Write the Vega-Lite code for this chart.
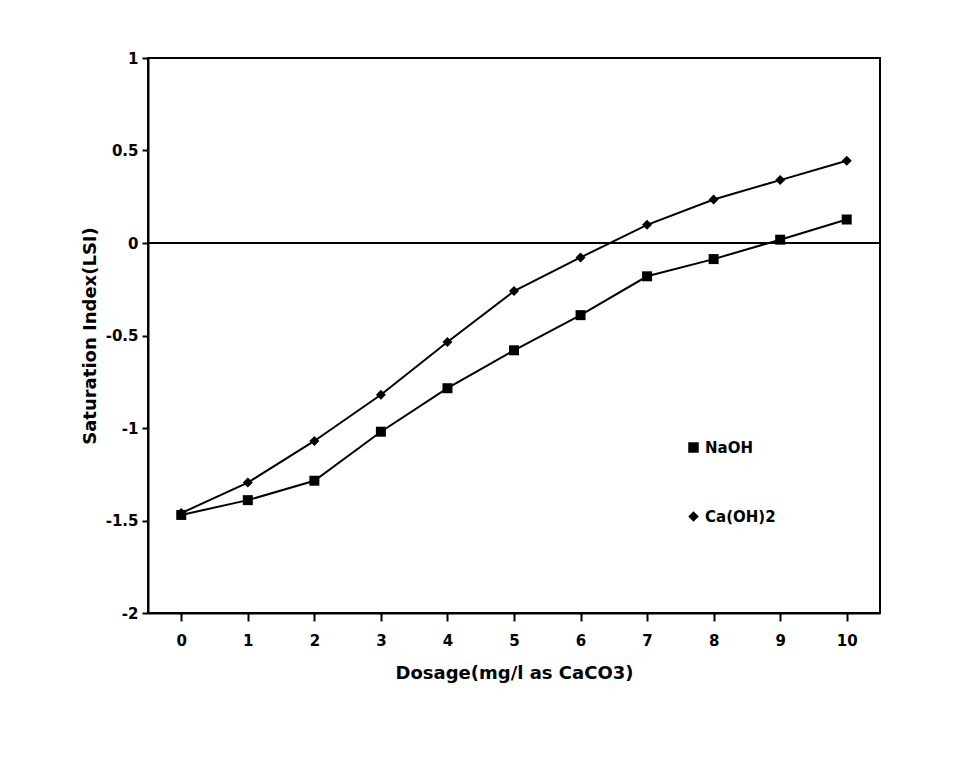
{
  "$schema": "https://vega.github.io/schema/vega-lite/v6.json",
  "width": 732,
  "height": 555,
  "autosize": {"type": "none"},
  "padding": {"left": 148, "top": 58, "right": 99, "bottom": 150},
  "background": "white",
  "config": {
    "view": {"stroke": "black", "strokeWidth": 2},
    "font": "DejaVu Sans",
    "axis": {
      "labelFont": "DejaVu Sans", "labelFontWeight": "bold", "labelFontSize": 15, "labelColor": "black",
      "titleFont": "DejaVu Sans", "titleFontWeight": "bold", "titleFontSize": 18, "titleColor": "black",
      "domainColor": "black", "domainWidth": 2, "tickColor": "black", "tickWidth": 2, "grid": false
    }
  },
  "data": {
    "values": [
      {"dose": 0, "lsi": -1.47, "series": "NaOH"},
      {"dose": 1, "lsi": -1.39, "series": "NaOH"},
      {"dose": 2, "lsi": -1.285, "series": "NaOH"},
      {"dose": 3, "lsi": -1.02, "series": "NaOH"},
      {"dose": 4, "lsi": -0.785, "series": "NaOH"},
      {"dose": 5, "lsi": -0.58, "series": "NaOH"},
      {"dose": 6, "lsi": -0.39, "series": "NaOH"},
      {"dose": 7, "lsi": -0.18, "series": "NaOH"},
      {"dose": 8, "lsi": -0.087, "series": "NaOH"},
      {"dose": 9, "lsi": 0.018, "series": "NaOH"},
      {"dose": 10, "lsi": 0.127, "series": "NaOH"},
      {"dose": 0, "lsi": -1.46, "series": "Ca(OH)2"},
      {"dose": 1, "lsi": -1.295, "series": "Ca(OH)2"},
      {"dose": 2, "lsi": -1.07, "series": "Ca(OH)2"},
      {"dose": 3, "lsi": -0.82, "series": "Ca(OH)2"},
      {"dose": 4, "lsi": -0.535, "series": "Ca(OH)2"},
      {"dose": 5, "lsi": -0.26, "series": "Ca(OH)2"},
      {"dose": 6, "lsi": -0.078, "series": "Ca(OH)2"},
      {"dose": 7, "lsi": 0.098, "series": "Ca(OH)2"},
      {"dose": 8, "lsi": 0.235, "series": "Ca(OH)2"},
      {"dose": 9, "lsi": 0.34, "series": "Ca(OH)2"},
      {"dose": 10, "lsi": 0.445, "series": "Ca(OH)2"}
    ]
  },
  "encoding": {
    "x": {
      "field": "dose", "type": "quantitative",
      "scale": {"domain": [-0.5, 10.5], "nice": false, "zero": false},
      "axis": {"values": [0,1,2,3,4,5,6,7,8,9,10], "title": "Dosage(mg/l as CaCO3)", "tickSize": 8, "labelPadding": 12, "titlePadding": 16}
    },
    "y": {
      "field": "lsi", "type": "quantitative",
      "scale": {"domain": [-2, 1], "nice": false, "zero": false},
      "axis": {"values": [-2,-1.5,-1,-0.5,0,0.5,1], "labelExpr": "'' + datum.value", "title": "Saturation Index(LSI)", "tickSize": 6, "labelPadding": 4, "titlePadding": 6}
    }
  },
  "layer": [
    {
      "data": {"values": [{"lsi": 0}]},
      "mark": {"type": "rule", "color": "black", "strokeWidth": 2},
      "encoding": {"x": null, "y": {"field": "lsi", "type": "quantitative"}}
    },
    {
      "mark": {"type": "line", "color": "black", "strokeWidth": 2},
      "encoding": {"detail": {"field": "series"}}
    },
    {
      "mark": {"type": "point", "filled": true, "opacity": 1, "color": "black"},
      "encoding": {
        "shape": {
          "field": "series", "type": "nominal",
          "scale": {"domain": ["NaOH", "Ca(OH)2"], "range": ["square", "diamond"]},
          "legend": {
            "title": null, "orient": "none", "legendX": 538, "legendY": 382,
            "labelFont": "DejaVu Sans", "labelFontWeight": "bold", "labelFontSize": 15, "labelColor": "black",
            "rowPadding": 52, "symbolSize": 110, "symbolFillColor": "black", "symbolStrokeColor": "black"
          }
        },
        "size": {"value": 100}
      }
    }
  ]
}
